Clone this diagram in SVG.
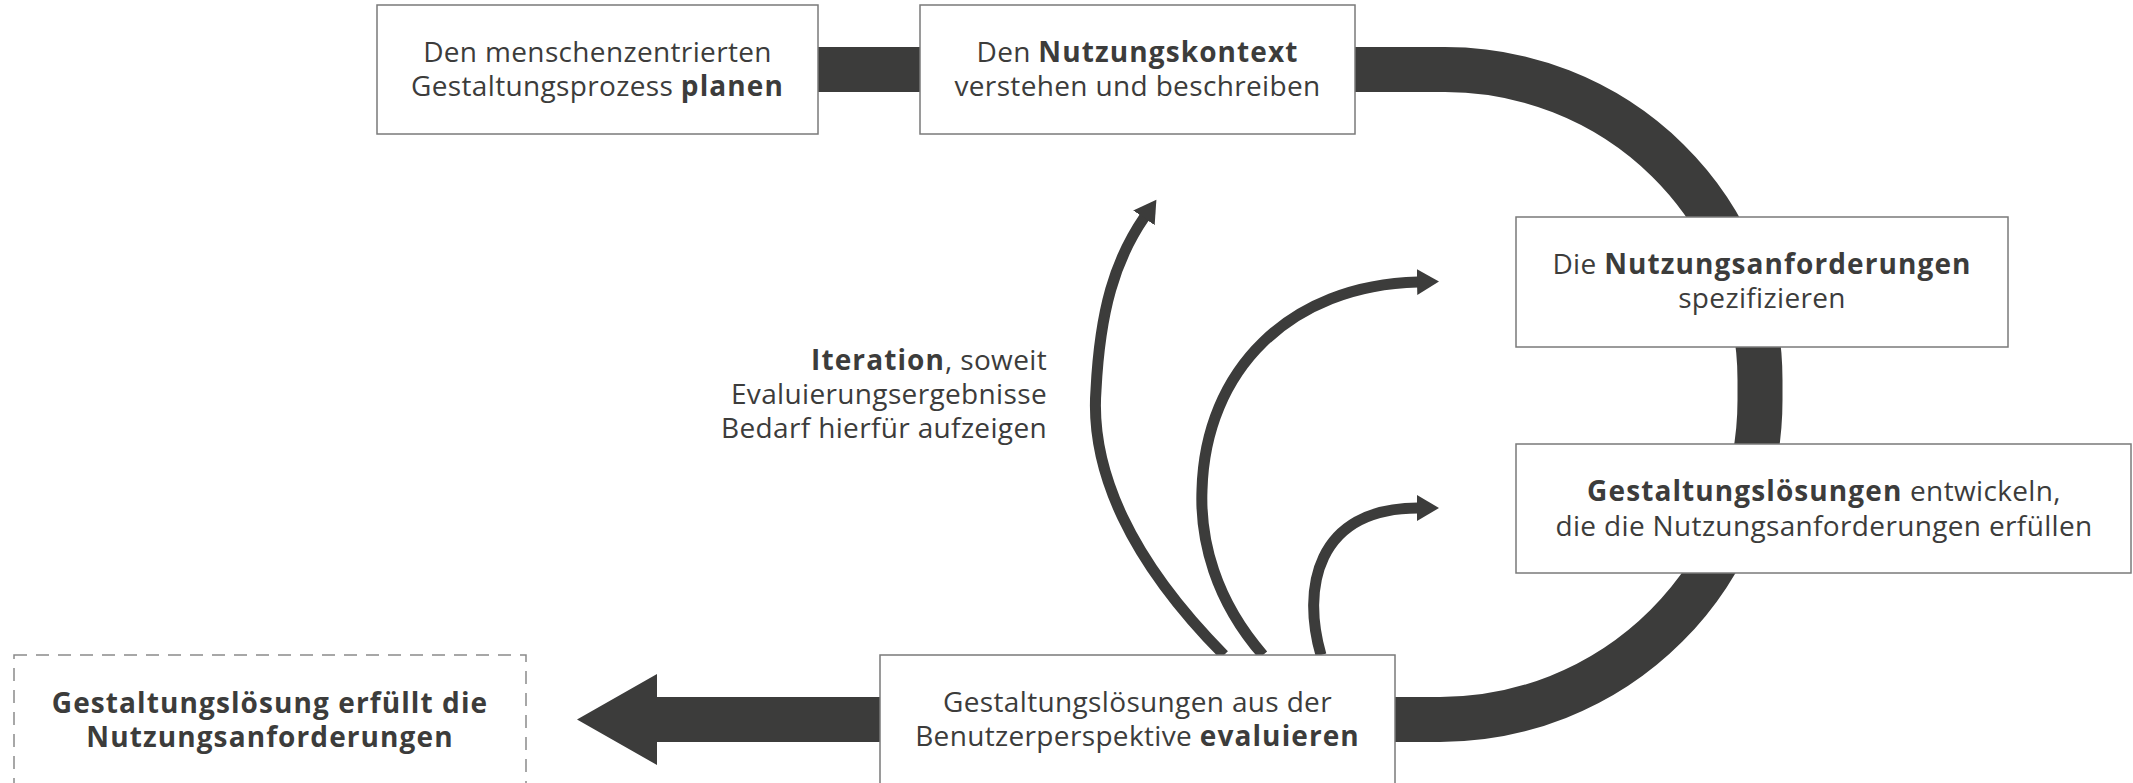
<svg xmlns="http://www.w3.org/2000/svg" width="2133" height="783" viewBox="0 0 2133 783">
  <style>
    .box { fill: #ffffff; stroke: #7a7a7a; stroke-width: 1.5; }
    .dashed { fill: #ffffff; stroke: #8a8a8a; stroke-width: 1.5; stroke-dasharray: 13 9; }
    .lbl { font-family: "Open Sans", "Liberation Sans", sans-serif; font-size: 28px; letter-spacing: 0.35px; fill: #3c3c3b; text-anchor: middle; }
    .right { text-anchor: end; }
    .b { font-weight: 700; letter-spacing: 1.1px; }
    .thick { fill: none; stroke: #3c3c3b; stroke-width: 45; }
    .thin { fill: none; stroke: #3c3c3b; stroke-width: 11; marker-end: url(#head); }
  </style>
  <defs>
    <marker id="head" markerUnits="userSpaceOnUse" markerWidth="24" markerHeight="28" refX="1" refY="13" orient="auto" viewBox="0 0 24 28">
      <path d="M0,0 L22,13 L0,26 Z" fill="#3c3c3b"/>
    </marker>
  </defs>

  <!-- connectors -->
  <g id="connectors">
    <!-- main cycle band -->
    <line class="thick" x1="818" y1="69.5" x2="920" y2="69.5"/>
    <path class="thick" d="M1355 69.5 H1445 A315 310.5 0 0 1 1760 380 V400 A320 319.5 0 0 1 1440 719.5 H1395"/>
    <!-- exit arrow -->
    <path d="M880 697 H657 V674 L577 719.5 L657 765 V742 H880 Z" fill="#3c3c3b"/>
    <!-- iteration arrows -->
    <path class="thin" d="M1224 655 C1130 560 1090 470 1096 390 C1100 310 1115 260 1144.5 217"/>
    <path class="thin" d="M1263 655 C1215 600 1200 540 1202 490 C1205 370 1290 285 1418 282"/>
    <path class="thin" d="M1321 655 C1302 590 1315 508 1418 508"/>
  </g>

  <g id="plan">
    <rect class="box" x="377" y="5" width="441" height="129"/>
    <text class="lbl" x="597.5" y="62">Den menschenzentrierten</text>
    <text class="lbl" x="597.5" y="96">Gestaltungsprozess <tspan class="b">planen</tspan></text>
  </g>

  <g id="context">
    <rect class="box" x="920" y="5" width="435" height="129"/>
    <text class="lbl" x="1137.5" y="62">Den <tspan class="b">Nutzungskontext</tspan></text>
    <text class="lbl" x="1137.5" y="96">verstehen und beschreiben</text>
  </g>

  <g id="requirements">
    <rect class="box" x="1516" y="217" width="492" height="130"/>
    <text class="lbl" x="1762" y="274">Die <tspan class="b">Nutzungsanforderungen</tspan></text>
    <text class="lbl" x="1762" y="308">spezifizieren</text>
  </g>

  <g id="design">
    <rect class="box" x="1516" y="444" width="615" height="129"/>
    <text class="lbl" x="1824" y="501"><tspan class="b">Gestaltungslösungen</tspan> entwickeln,</text>
    <text class="lbl" x="1824" y="536">die die Nutzungsanforderungen erfüllen</text>
  </g>

  <g id="evaluate">
    <rect class="box" x="880" y="655" width="515" height="150"/>
    <text class="lbl" x="1137.5" y="712">Gestaltungslösungen aus der</text>
    <text class="lbl" x="1137.5" y="746">Benutzerperspektive <tspan class="b">evaluieren</tspan></text>
  </g>

  <g id="done">
    <rect class="dashed" x="14" y="655" width="512" height="150"/>
    <text class="lbl b" x="270" y="713">Gestaltungslösung erfüllt die</text>
    <text class="lbl b" x="270" y="747">Nutzungsanforderungen</text>
  </g>

  <g id="iteration-note">
    <text class="lbl right" x="1047" y="370"><tspan class="b">Iteration</tspan>, soweit</text>
    <text class="lbl right" x="1047" y="404">Evaluierungsergebnisse</text>
    <text class="lbl right" x="1047" y="438">Bedarf hierfür aufzeigen</text>
  </g>
</svg>
